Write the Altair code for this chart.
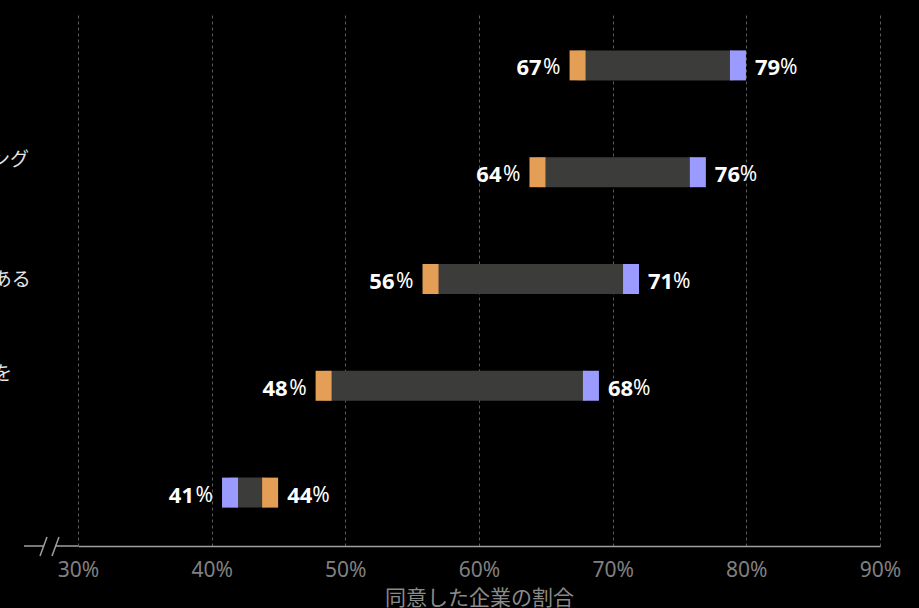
import altair as alt
import pandas as pd

# ---- data ----
categories = [
    "生成AIは自社の競争力を\n高める重要な技術である",
    "生成AIの活用には社員のリスキリング\nが不可欠である",
    "データ活用は企業成長に不可欠である",
    "経営層は人材の育成に十分な予算を\n確保している",
    "自社のAI戦略は業界の\n先行企業と比べて進んでいる",
]
orange_vals = [67, 64, 56, 48, 44]
blue_vals = [79, 76, 71, 68, 41]
series_names = ["orange", "blue"]
x_ticks = [30, 40, 50, 60, 70, 80, 90]
x_title = "同意した企業の割合"

ORANGE = "#E59E55"
BLUE = "#9B9BFF"
GREY_BAR = "#3C3C3A"

wide = pd.DataFrame({
    "category": categories,
    "orange": orange_vals,
    "blue": blue_vals,
})
wide["lo"] = wide[["orange", "blue"]].min(axis=1)
wide["hi"] = wide[["orange", "blue"]].max(axis=1)
wide["lo_txt"] = wide["lo"].astype(str)
wide["hi_txt"] = wide["hi"].astype(str)
wide["multi"] = wide["category"].str.contains("\n")

long = pd.DataFrame({
    "category": categories * 2,
    "series": [series_names[0]] * len(categories) + [series_names[1]] * len(categories),
    "value": orange_vals + blue_vals,
})

y_enc = alt.Y(
    "category:N",
    sort=categories,
    axis=None,
    scale=alt.Scale(domain=categories, paddingInner=0, paddingOuter=0),
)
x_scale = alt.Scale(domain=[30, 90], nice=False, zero=False)

base = alt.Chart(wide)

bars = base.mark_bar(size=30, color=GREY_BAR, xOffset=5).encode(
    x=alt.X(
        "lo:Q",
        scale=x_scale,
        axis=alt.Axis(
            values=x_ticks,
            labelExpr="datum.value + '%'",
            labelFlush=False,
            title=x_title,
        ),
    ),
    x2="hi:Q",
    y=y_enc,
)

caps = alt.Chart(long).mark_tick(thickness=16, size=30, opacity=1, xOffset=5).encode(
    x=alt.X("value:Q", scale=x_scale),
    y=y_enc,
    color=alt.Color(
        "series:N",
        scale=alt.Scale(domain=series_names, range=[ORANGE, BLUE]),
        legend=None,
    ),
)

num_style = dict(font="Noto Sans", fontSize=22, fontWeight="bold", color="#ffffff", baseline="middle")
pct_style = dict(font="Noto Sans", fontSize=21, fontWeight="normal", color="#ffffff", baseline="middle")

left_num = base.mark_text(align="right", dx=-31, dy=3, **num_style).encode(
    x=alt.X("lo:Q", scale=x_scale), y=y_enc, text="lo_txt:N"
)
left_pct = base.mark_text(align="right", dx=-12, dy=3, **pct_style).encode(
    x=alt.X("lo:Q", scale=x_scale), y=y_enc, text=alt.value("%")
)
right_num = base.mark_text(align="left", dx=22, dy=3, **num_style).encode(
    x=alt.X("hi:Q", scale=x_scale), y=y_enc, text="hi_txt:N"
)
right_pct = base.mark_text(align="left", dx=47, dy=3, **pct_style).encode(
    x=alt.X("hi:Q", scale=x_scale), y=y_enc, text=alt.value("%")
)

lab_style = dict(
    align="left",
    baseline="middle",
    lineBreak="\n",
    lineHeight=28,
    font="Noto Sans CJK JP",
    fontSize=19,
    color="#e6e6e6",
)
cat_labels_multi = base.transform_filter("datum.multi").mark_text(dy=-12, **lab_style).encode(
    x=alt.value(-370), y=y_enc, text="category:N"
)
cat_labels_single = base.transform_filter("!datum.multi").mark_text(dy=1, **lab_style).encode(
    x=alt.value(-370), y=y_enc, text="category:N"
)

one = pd.DataFrame({"k": [0]})
AXIS_GREY = "#a0a0a0"
ext1 = alt.Chart(one).mark_rule(color=AXIS_GREY, strokeWidth=1.5).encode(
    x=alt.value(-54), x2=alt.value(-34), y=alt.value(534)
)
ext2 = alt.Chart(one).mark_rule(color=AXIS_GREY, strokeWidth=1.5).encode(
    x=alt.value(-23), x2=alt.value(0), y=alt.value(534)
)
slash1 = alt.Chart(one).mark_rule(color=AXIS_GREY, strokeWidth=1.5).encode(
    x=alt.value(-38), x2=alt.value(-31), y=alt.value(544), y2=alt.value(525)
)
slash2 = alt.Chart(one).mark_rule(color=AXIS_GREY, strokeWidth=1.5).encode(
    x=alt.value(-26), x2=alt.value(-19), y=alt.value(544), y2=alt.value(525)
)

chart = (
    alt.layer(bars, caps, left_num, left_pct, right_num, right_pct,
              cat_labels_multi, cat_labels_single,
              ext1, ext2, slash1, slash2)
    .properties(
        width=802,
        height=534,
        background="#000000",
        padding={"left": 78, "top": 12, "right": 39, "bottom": 62},
        autosize=alt.AutoSizeParams(type="none"),
    )
    .configure_view(stroke=None)
    .configure_axis(
        domainColor=AXIS_GREY,
        domainWidth=1.5,
        ticks=False,
        grid=True,
        gridColor="#5a5a5a",
        gridDash=[3, 3],
        gridWidth=1,
        labelColor="#808080",
        labelFont="Noto Sans",
        labelFontSize=21,
        labelPadding=13,
        titleColor="#8a8a8a",
        titleFont="Noto Sans CJK JP",
        titleFontSize=21,
        titleFontWeight="normal",
        titlePadding=7,
    )
)

chart.save("out.html", embed_options={"renderer": "svg", "actions": False})
